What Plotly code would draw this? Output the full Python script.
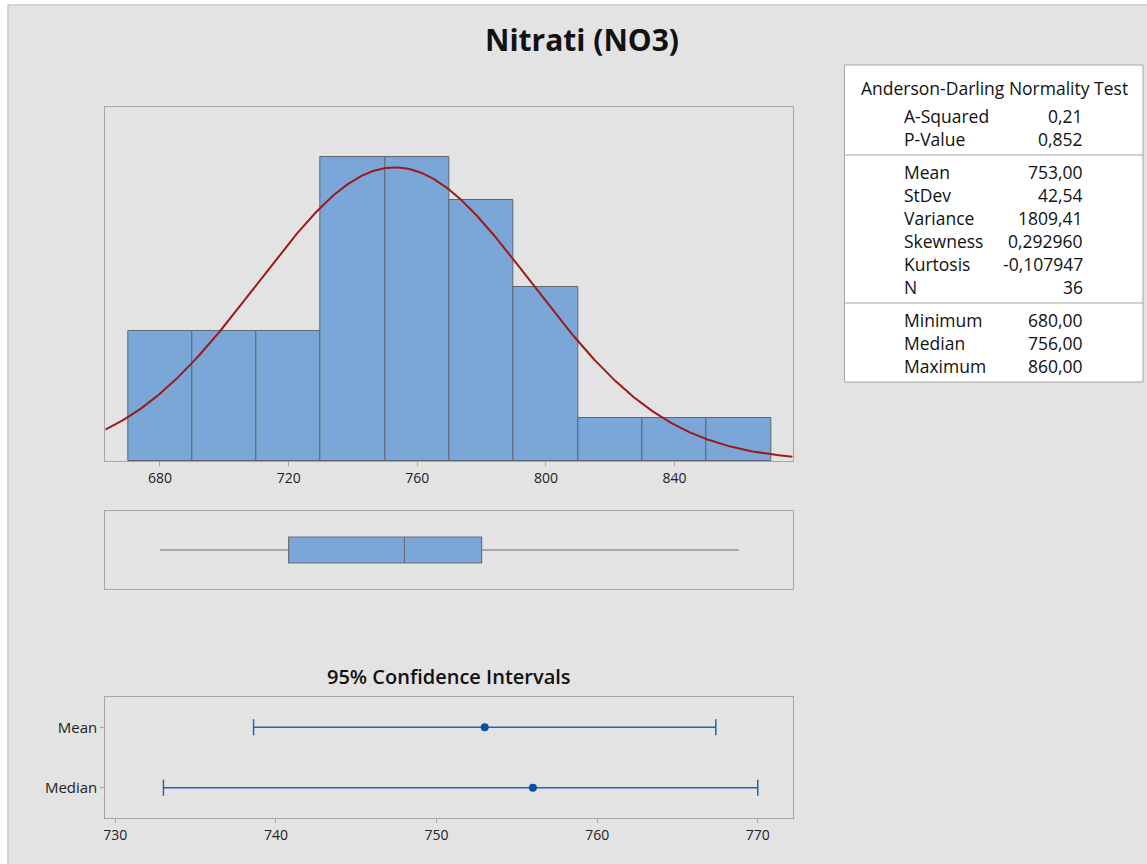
import numpy as np
import plotly.graph_objects as go

# ---------------- data ----------------
bin_centers = [680, 700, 720, 740, 760, 780, 800, 820, 840, 860]
bin_counts = [3, 3, 3, 7, 7, 6, 4, 1, 1, 1]
bin_width = 20

mean_val = 753.00
stdev_val = 42.54
n_val = 36
box_stats = {"min": 680, "q1": 720, "median": 756, "q3": 780, "max": 860}

ci_labels = ["Mean", "Median"]
ci_centers = [753.0, 756.0]
ci_lower = [738.61, 733.0]
ci_upper = [767.39, 770.0]

hist_ticks = [680, 720, 760, 800, 840]
ci_ticks = [730, 740, 750, 760, 770]

table_header = "Anderson-Darling Normality Test"
table_groups = [
    [("A-Squared", "0,21"), ("P-Value", "0,852")],
    [("Mean", "753,00"), ("StDev", "42,54"), ("Variance", "1809,41"),
     ("Skewness", "0,292960"), ("Kurtosis", "-0,107947"), ("N", "36")],
    [("Minimum", "680,00"), ("Median", "756,00"), ("Maximum", "860,00")],
]

# ---------------- geometry helpers ----------------
W, H = 1147, 864
def px(x):
    return x / W
def py(y):
    return 1 - y / H

FONT = "Open Sans"
BAR_FILL = "#7BA7D8"
BAR_LINE = "#5E6670"
AXIS_LINE = "#A6A6A6"
BG = "#E3E3E3"
TXT = "#111111"

fig = go.Figure()

# histogram
fig.add_trace(go.Bar(
    x=bin_centers, y=bin_counts, width=bin_width,
    marker=dict(color=BAR_FILL, line=dict(color=BAR_LINE, width=1)),
    xaxis="x", yaxis="y", showlegend=False, hoverinfo="x+y",
))

# fitted normal curve
xs = np.linspace(663.0, 876.7, 400)
ys = n_val * bin_width * np.exp(-0.5 * ((xs - mean_val) / stdev_val) ** 2) / (stdev_val * np.sqrt(2 * np.pi))
fig.add_trace(go.Scatter(
    x=xs, y=ys, mode="lines", line=dict(color="#9B1B1B", width=2),
    xaxis="x", yaxis="y", showlegend=False, hoverinfo="skip",
))

# boxplot
fig.add_trace(go.Box(
    y=[0], q1=[box_stats["q1"]], median=[box_stats["median"]], q3=[box_stats["q3"]],
    lowerfence=[box_stats["min"]], upperfence=[box_stats["max"]],
    orientation="h", width=1, whiskerwidth=0,
    fillcolor=BAR_FILL, line=dict(color="#6E6E6E", width=1.2),
    xaxis="x2", yaxis="y2", showlegend=False, boxpoints=False,
))

# confidence intervals
ci_y = [1, 0]
fig.add_trace(go.Scatter(
    x=ci_centers, y=ci_y, mode="markers",
    marker=dict(color="#0B4FA3", size=8),
    error_x=dict(type="data", symmetric=False,
                 array=[u - c for u, c in zip(ci_upper, ci_centers)],
                 arrayminus=[c - l for l, c in zip(ci_lower, ci_centers)],
                 color="#1F63B8", thickness=1.5, width=8),
    xaxis="x3", yaxis="y3", showlegend=False,
))

axis_common = dict(showline=True, mirror=True, linecolor=AXIS_LINE, linewidth=1,
                   showgrid=False, zeroline=False)
tickfont = dict(family=FONT, size=14, color="#222222")

xdom = [px(103.5), px(792)]

fig.update_layout(
    width=W, height=H,
    margin=dict(l=0, r=0, t=0, b=0),
    paper_bgcolor="white",
    plot_bgcolor="white",
    bargap=0,
    font=dict(family=FONT, color=TXT),
    xaxis=dict(domain=xdom, range=[663.0, 876.7], tickvals=hist_ticks,
               ticks="outside", ticklen=4, tickcolor=AXIS_LINE, tickfont=tickfont,
               anchor="y", **axis_common),
    yaxis=dict(domain=[py(461), py(107)], range=[0, 8.14], showticklabels=False,
               ticks="", anchor="x", **axis_common),
    xaxis2=dict(domain=xdom, range=[663.0, 876.7], showticklabels=False, ticks="",
                anchor="y2", **axis_common),
    yaxis2=dict(domain=[py(589), py(511)], range=[-1.5, 1.5], showticklabels=False,
                ticks="", anchor="x2", **axis_common),
    xaxis3=dict(domain=xdom, range=[729.38, 772.17], tickvals=ci_ticks,
                ticks="outside", ticklen=4, tickcolor=AXIS_LINE, tickfont=tickfont,
                anchor="y3", **axis_common),
    yaxis3=dict(domain=[py(818), py(697)], range=[-0.5, 1.5], tickvals=ci_y,
                ticktext=ci_labels, ticks="outside", ticklen=4, tickcolor=AXIS_LINE,
                tickfont=dict(family=FONT, size=15, color="#222222"),
                anchor="x3", **axis_common),
)

shapes = []
# outer gray frame
shapes.append(dict(type="rect", xref="paper", yref="paper",
                   x0=px(6), x1=px(W + 5), y0=py(H + 5), y1=py(5),
                   fillcolor=BG, line=dict(color="#C8C8C8", width=1.5), layer="below"))
# stats table
shapes.append(dict(type="rect", xref="paper", yref="paper",
                   x0=px(844), x1=px(1143), y0=py(382), y1=py(65),
                   fillcolor="white", line=dict(color=AXIS_LINE, width=1), layer="below"))
for yy in (155, 303):
    shapes.append(dict(type="line", xref="paper", yref="paper",
                       x0=px(844), x1=px(1143), y0=py(yy), y1=py(yy),
                       line=dict(color=AXIS_LINE, width=1)))

annotations = []
annotations.append(dict(text="<b>Nitrati (NO3)</b>", xref="paper", yref="paper",
                        x=px(581), y=py(40), xanchor="center", yanchor="middle",
                        showarrow=False, font=dict(family=FONT, size=30, color=TXT)))
annotations.append(dict(text="95% Confidence Intervals", xref="paper", yref="paper",
                        x=px(448), y=py(676), xanchor="center", yanchor="middle",
                        showarrow=False,
                        font=dict(family=FONT, size=20, color=TXT, weight=600)))
TS = 17.5
annotations.append(dict(text=table_header, xref="paper", yref="paper",
                        x=px(994), y=py(88), xanchor="center", yanchor="middle",
                        showarrow=False, font=dict(family=FONT, size=TS, color=TXT)))

row_y = [[116, 139], [172, 195, 218, 241, 264, 287], [320, 343, 366]]
for group, ys_ in zip(table_groups, row_y):
    for (lab, val), yy in zip(group, ys_):
        annotations.append(dict(text=lab, xref="paper", yref="paper",
                                x=px(902), y=py(yy), xanchor="left", yanchor="middle",
                                showarrow=False, font=dict(family=FONT, size=TS, color=TXT)))
        annotations.append(dict(text=val, xref="paper", yref="paper",
                                x=px(1085), y=py(yy), xanchor="right", yanchor="middle",
                                showarrow=False, font=dict(family=FONT, size=TS, color=TXT)))

fig.update_layout(shapes=shapes, annotations=annotations)

fig.write_html("out.html", config={"displayModeBar": False},
               post_script="document.body.style.margin='0';document.body.style.overflow='hidden';")
